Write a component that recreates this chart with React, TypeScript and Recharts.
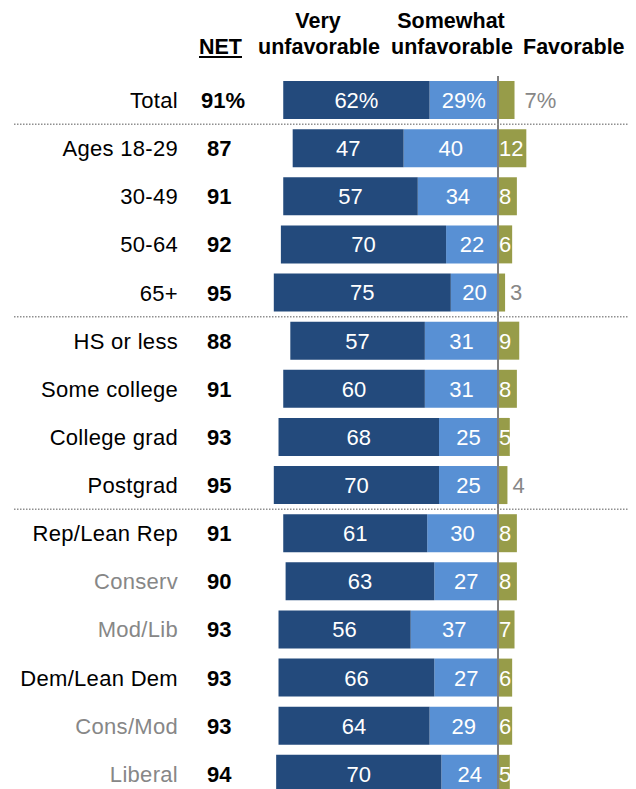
import { BarChart, Bar, XAxis, YAxis, ReferenceLine, LabelList } from "recharts";

const groups = [
  "Total",
  "Ages 18-29",
  "30-49",
  "50-64",
  "65+",
  "HS or less",
  "Some college",
  "College grad",
  "Postgrad",
  "Rep/Lean Rep",
  "Conserv",
  "Mod/Lib",
  "Dem/Lean Dem",
  "Cons/Mod",
  "Liberal",
];
const net = [91, 87, 91, 92, 95, 88, 91, 93, 95, 91, 90, 93, 93, 93, 94];
const veryUnfav = [62, 47, 57, 70, 75, 57, 60, 68, 70, 61, 63, 56, 66, 64, 70];
const somewhatUnfav = [29, 40, 34, 22, 20, 31, 31, 25, 25, 30, 27, 37, 27, 29, 24];
const favorable = [7, 12, 8, 6, 3, 9, 8, 5, 4, 8, 8, 7, 6, 6, 5];

// sub-groups drawn in grey, section breaks get a dotted rule above them
const subGroups = ["Conserv", "Mod/Lib", "Cons/Mod", "Liberal"];
const sectionStarts = ["Ages 18-29", "HS or less", "Rep/Lean Rep"];

const DARK = "#234a7c";
const LIGHT = "#5890d4";
const OLIVE = "#979c49";
const GREY = "#878787";
const FONT = "'Liberation Sans', Arial, sans-serif";

const data = groups.map((g, i) => {
  const pct = i === 0 ? "%" : "";
  return {
    group: g,
    somewhat: -somewhatUnfav[i],
    very: -veryUnfav[i],
    fav: favorable[i],
    veryTxt: `${veryUnfav[i]}${pct}`,
    somewhatTxt: `${somewhatUnfav[i]}${pct}`,
    favTxt: `${favorable[i]}${pct}`,
  };
});

const PLOT_TOP = 68;
const PLOT_H = 722;
const BAND = PLOT_H / groups.length;

function GroupTick(props: any) {
  const { y, payload } = props;
  const i = groups.indexOf(payload.value);
  const isSub = subGroups.includes(payload.value);
  const isTotal = i === 0;
  return (
    <g>
      {sectionStarts.includes(payload.value) && (
        <line
          x1={6}
          x2={628}
          y1={y - BAND / 2}
          y2={y - BAND / 2}
          stroke="#8f8f8f"
          strokeWidth={1.5}
          strokeDasharray="1.5 1.5"
        />
      )}
      <text
        x={170}
        y={y}
        dy="0.36em"
        textAnchor="end"
        fill={isSub ? GREY : "#000"}
        fontSize={22}
        letterSpacing={0.3}
        fontFamily={FONT}
      >
        {payload.value}
      </text>
      <text
        x={isTotal ? 193 : 199}
        y={y}
        dy="0.36em"
        textAnchor="start"
        fill="#000"
        fontSize={22}
        fontWeight="bold"
        fontFamily={FONT}
      >
        {net[i]}
        {isTotal ? "%" : ""}
      </text>
    </g>
  );
}

function CenterLabel(props: any) {
  const { x, y, width, height, value } = props;
  return (
    <text
      x={x + width / 2}
      y={y + height / 2}
      dy="0.36em"
      textAnchor="middle"
      fill="#fff"
      fontSize={22}
      fontFamily={FONT}
    >
      {value}
    </text>
  );
}

function FavLabel(props: any) {
  const { x, y, width, height, value } = props;
  const s = String(value);
  const isTotal = s.includes("%");
  const outside = isTotal || parseInt(s, 10) < 5;
  if (outside) {
    return (
      <text
        x={x + width + (isTotal ? 10 : 5)}
        y={y + height / 2}
        dy="0.36em"
        textAnchor="start"
        fill={GREY}
        fontSize={22}
        fontFamily={FONT}
      >
        {s}
      </text>
    );
  }
  return (
    <text
      x={x + 1}
      y={y + height / 2}
      dy="0.36em"
      textAnchor="start"
      fill="#fff"
      fontSize={22}
      fontFamily={FONT}
    >
      {s}
    </text>
  );
}

const headStyle: React.CSSProperties = {
  position: "absolute",
  fontFamily: FONT,
  fontWeight: "bold",
  fontSize: 21.5,
  lineHeight: "26px",
  textAlign: "center",
  color: "#000",
  whiteSpace: "nowrap",
};

export default function App() {
  return (
    <div style={{ position: "relative", width: 628, height: 790 }}>
      <div style={{ ...headStyle, left: 191, top: 26, width: 40, textDecoration: "underline" }}>
        NET
      </div>
      <div style={{ ...headStyle, left: 250, top: 0, width: 120 }}>
        Very
        <br />
        unfavorable
      </div>
      <div style={{ ...headStyle, left: 383, top: 0, width: 120 }}>
        Somewhat
        <br />
        unfavorable
      </div>
      <div style={{ ...headStyle, left: 515, top: 26, width: 100 }}>
        Favorable
      </div>
      <BarChart
        width={628}
        height={790}
        data={data}
        layout="vertical"
        stackOffset="sign"
        margin={{ top: PLOT_TOP, right: 20, bottom: 0, left: 0 }}
        barSize={38}
      >
        <XAxis type="number" domain={[-100, 50]} hide />
        <YAxis
          type="category"
          dataKey="group"
          width={254}
          axisLine={false}
          tickLine={false}
          interval={0}
          tick={<GroupTick />}
        />
        <Bar dataKey="somewhat" stackId="a" fill={LIGHT} isAnimationActive={false}>
          <LabelList dataKey="somewhatTxt" content={<CenterLabel />} />
        </Bar>
        <Bar dataKey="very" stackId="a" fill={DARK} isAnimationActive={false}>
          <LabelList dataKey="veryTxt" content={<CenterLabel />} />
        </Bar>
        <Bar dataKey="fav" stackId="a" fill={OLIVE} isAnimationActive={false}>
          <LabelList dataKey="favTxt" content={<FavLabel />} />
        </Bar>
        <ReferenceLine x={0} stroke="#7f7f7f" strokeWidth={2} />
      </BarChart>
    </div>
  );
}
